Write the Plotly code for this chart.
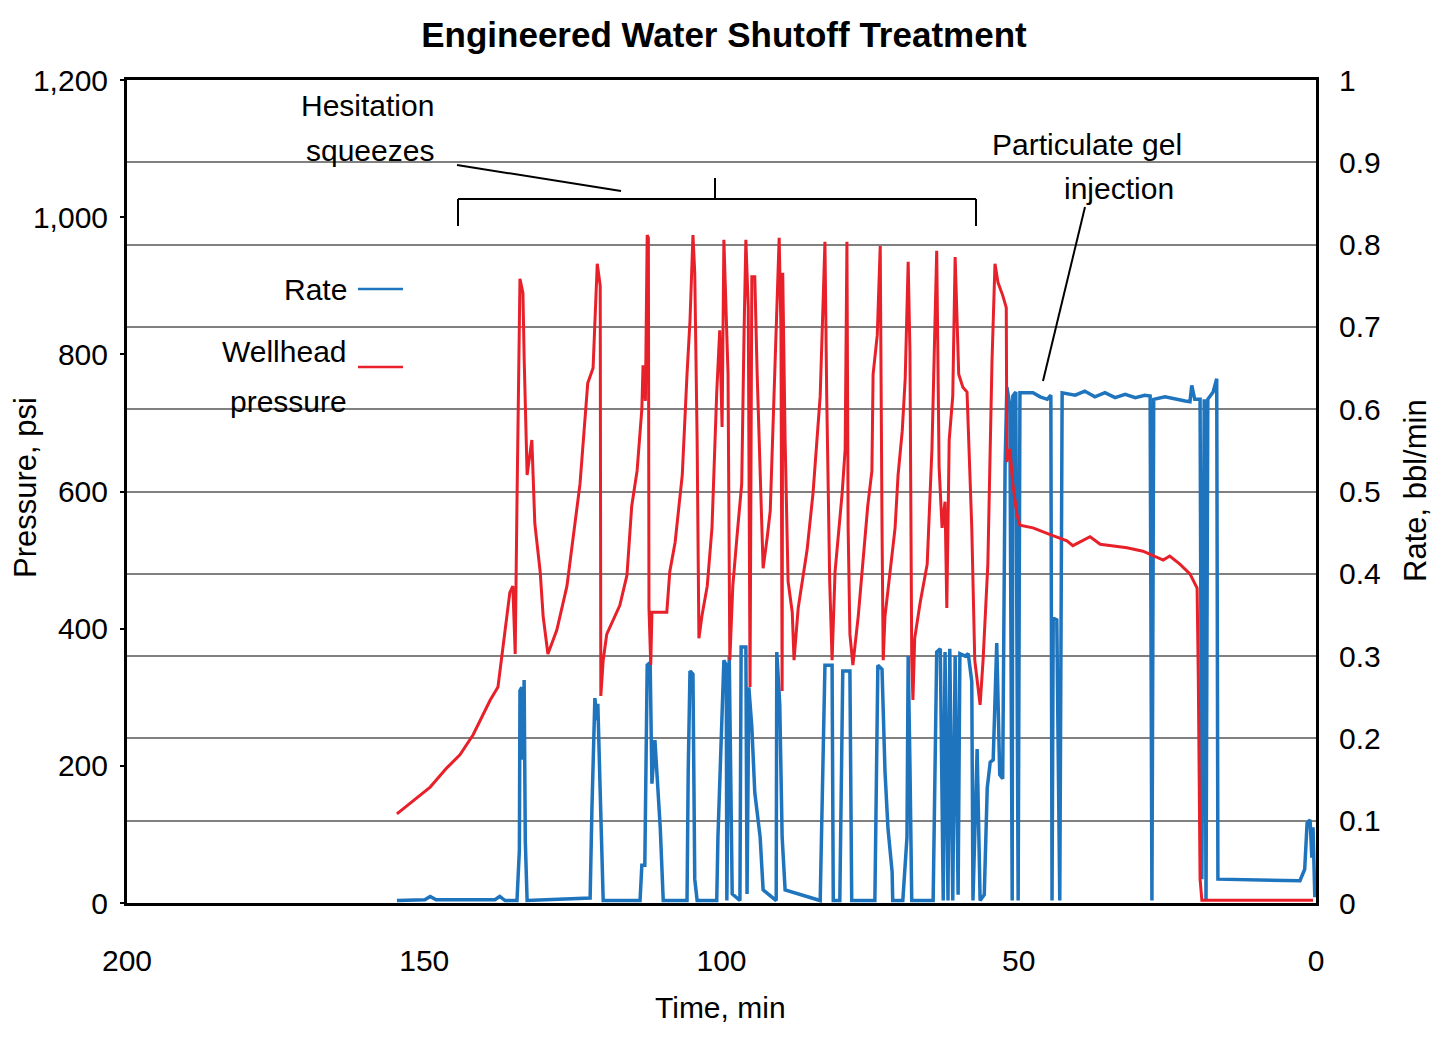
import plotly.graph_objects as go

# ---- Data ----
# Wellhead pressure, psi vs time, min
pressure_time = [
    154.6, 151.9, 149.0, 146.2, 144.0, 141.8, 138.9, 137.6, 136.9, 136.3,
    135.6, 135.1, 134.7, 134.4, 133.9, 133.4, 133.2, 132.7, 131.9, 131.4,
    130.5, 130.0, 129.2, 127.7, 126.0, 123.8, 122.5, 121.6, 120.9, 120.4,
    120.3, 119.9, 119.3, 117.1, 115.9, 115.1, 114.2, 113.4, 113.2, 112.8,
    112.5, 112.3, 112.2, 111.9, 111.7, 109.2, 108.7, 107.8, 106.6, 105.8,
    105.3, 104.8, 104.5, 104.1, 103.8, 103.3, 102.4, 101.6, 101.1, 100.8,
    100.3, 99.9, 99.6, 99.2, 98.9, 98.6, 98.1, 97.4, 96.6, 96.2,
    95.9, 95.5, 95.2, 94.9, 94.4, 94.0, 93.5, 93.0, 92.3, 91.8,
    91.0, 90.3, 90.0, 89.8, 89.7, 89.3, 88.8, 88.1, 87.8, 87.1,
    85.6, 84.6, 83.4, 82.6, 82.3, 81.8, 81.4, 80.9, 79.7, 79.2,
    78.9, 78.7, 78.4, 77.9, 77.0, 76.2, 75.4, 74.7, 74.5, 73.8,
    73.3, 73.0, 72.8, 72.5, 71.7, 70.8, 70.3, 69.6, 69.1, 68.6,
    68.3, 68.0, 67.8, 67.5, 66.6, 65.4, 64.6, 64.1, 63.8, 63.4,
    62.9, 62.4, 62.1, 61.7, 61.1, 60.7, 60.4, 60.1, 59.4, 58.7,
    57.9, 57.4, 56.5, 56.0, 55.2, 54.5, 54.0, 53.5, 52.7, 52.1,
    52.0, 51.5, 51.0, 50.3, 49.8, 47.6, 44.7, 41.9, 40.9, 38.0,
    36.3, 31.8, 29.1, 25.7, 24.6, 22.9, 21.2, 20.0, 19.8, 19.5,
    19.2, 0.5,
]
pressure_psi = [
    130, 149, 169, 197, 216, 245, 296, 315, 363, 398,
    453, 462, 363, 585, 910, 889, 796, 624, 675, 553,
    483, 418, 363, 398, 462, 611, 758, 780, 932, 900,
    302, 354, 392, 434, 478, 579, 630, 720, 784, 732,
    974, 970, 430, 347, 424, 424, 483, 526, 624, 771,
    849, 974, 919, 675, 386, 418, 462, 547, 675, 745,
    835, 694, 967, 835, 771, 354, 462, 534, 611, 835,
    967, 868, 315, 913, 913, 771, 611, 488, 534, 572,
    784, 970, 835, 309, 919, 675, 469, 424, 354, 430,
    515, 598, 739, 964, 739, 469, 354, 483, 598, 662,
    964, 547, 392, 347, 418, 494, 579, 630, 771, 828,
    958, 547, 354, 418, 483, 547, 624, 688, 764, 935,
    803, 354, 296, 386, 437, 494, 662, 822, 951, 636,
    547, 585, 430, 675, 739, 942, 841, 771, 752, 745,
    547, 354, 289, 354, 494, 790, 932, 905, 886, 868,
    643, 662, 611, 566, 551, 547, 537, 528, 521, 534,
    523, 518, 513, 500, 506, 494, 480, 459, 331, 35,
    4, 4,
]

# Rate, bbl/min vs time, min
rate_time = [
    154.6, 149.9, 149.0, 148.0, 138.1, 137.3, 136.4, 134.4, 134.0, 133.9,
    133.6, 133.4, 133.2, 133.0, 132.7, 122.1, 121.8, 121.3, 120.9, 120.8,
    120.4, 119.9, 113.7, 113.4, 112.9, 112.5, 112.0, 111.7, 111.2, 110.3,
    109.8, 105.8, 105.6, 105.3, 104.8, 104.5, 104.1, 100.8, 100.6, 99.9,
    99.6, 99.2, 99.1, 98.7, 98.2, 96.9, 96.7, 95.9, 95.7, 95.4,
    94.9, 94.4, 93.5, 93.0, 90.8, 90.7, 90.2, 89.8, 89.3, 83.4,
    83.1, 82.6, 81.4, 81.2, 80.1, 79.6, 78.4, 78.1, 74.2, 73.7,
    73.0, 72.5, 72.0, 71.3, 71.2, 69.5, 68.8, 68.6, 68.3, 68.0,
    64.4, 63.8, 63.2, 62.7, 62.4, 61.9, 61.6, 61.1, 60.7, 60.2,
    59.9, 59.0, 58.5, 57.9, 57.7, 57.0, 56.5, 55.8, 55.3, 54.8,
    54.3, 53.7, 53.2, 52.7, 52.3, 52.0, 51.5, 51.1, 51.0, 50.5,
    50.1, 49.8, 47.6, 46.4, 45.2, 44.6, 44.4, 44.2, 43.6, 43.4,
    43.1, 42.7, 40.5, 38.9, 37.2, 35.5, 33.8, 32.1, 30.4, 28.8,
    27.9, 27.6, 27.3, 25.4, 23.7, 22.0, 21.2, 20.9, 20.4, 19.5,
    19.2, 18.8, 18.5, 18.2, 17.3, 16.7, 16.5, 2.7, 1.9, 1.5,
    1.0, 0.7, 0.5, 0.2,
]
rate_bpm = [
    0.003, 0.004, 0.008, 0.004, 0.004, 0.008, 0.003, 0.003, 0.064, 0.258,
    0.262, 0.174, 0.271, 0.075, 0.003, 0.006, 0.113, 0.249, 0.222, 0.242,
    0.134, 0.003, 0.003, 0.046, 0.046, 0.289, 0.292, 0.145, 0.198, 0.091,
    0.003, 0.003, 0.160, 0.282, 0.278, 0.029, 0.003, 0.003, 0.080, 0.214,
    0.295, 0.289, 0.003, 0.300, 0.011, 0.003, 0.311, 0.311, 0.011, 0.262,
    0.214, 0.134, 0.080, 0.016, 0.003, 0.305, 0.241, 0.080, 0.016, 0.003,
    0.118, 0.289, 0.289, 0.003, 0.003, 0.282, 0.282, 0.003, 0.003, 0.289,
    0.284, 0.160, 0.091, 0.038, 0.003, 0.003, 0.080, 0.300, 0.166, 0.003,
    0.003, 0.305, 0.309, 0.003, 0.305, 0.003, 0.309, 0.003, 0.300, 0.010,
    0.303, 0.300, 0.303, 0.269, 0.003, 0.187, 0.003, 0.010, 0.140, 0.171,
    0.174, 0.316, 0.156, 0.151, 0.532, 0.627, 0.605, 0.003, 0.616, 0.621,
    0.003, 0.620, 0.620, 0.615, 0.612, 0.617, 0.003, 0.346, 0.344, 0.233,
    0.003, 0.620, 0.617, 0.622, 0.615, 0.620, 0.614, 0.618, 0.614, 0.617,
    0.616, 0.003, 0.612, 0.615, 0.612, 0.610, 0.609, 0.629, 0.612, 0.612,
    0.029, 0.612, 0.003, 0.612, 0.621, 0.637, 0.029, 0.027, 0.041, 0.097,
    0.101, 0.055, 0.092, 0.007,
]

time_ticks = [200, 150, 100, 50, 0]
pressure_ticks = [0, 200, 400, 600, 800, 1000, 1200]
rate_ticks = [0, 0.1, 0.2, 0.3, 0.4, 0.5, 0.6, 0.7, 0.8, 0.9, 1]

BLUE = "#1F74BE"
RED = "#E8202A"
FONT = "Liberation Sans, Arial, sans-serif"

fig = go.Figure()
# rate on base axis (right side), pressure on overlay axis so it draws on top
fig.add_trace(go.Scatter(x=rate_time, y=rate_bpm, mode="lines", name="Rate",
                         line=dict(color=BLUE, width=3.5), yaxis="y"))
fig.add_trace(go.Scatter(x=pressure_time, y=pressure_psi, mode="lines",
                         name="Wellhead pressure",
                         line=dict(color=RED, width=3), yaxis="y2"))

fig.update_layout(
    width=1442, height=1037,
    margin=dict(l=119, r=134, t=72, b=142),
    paper_bgcolor="white", plot_bgcolor="white",
    showlegend=False,
    font=dict(family=FONT, size=30, color="black"),
    title=dict(text="<b>Engineered Water Shutoff Treatment</b>",
               x=0.4965, xanchor="center", y=0.9745, yanchor="middle",
               font=dict(family="Liberation Sans Narrow, Arial Narrow, Liberation Sans, Arial",
                         size=35, color="black")),
    xaxis=dict(range=[200, 0], tickvals=time_ticks, showgrid=False, zeroline=False,
               showline=True, linecolor="black", linewidth=3, mirror=True,
               ticks="", ticklabelstandoff=29),
    yaxis=dict(range=[0, 1], tickvals=rate_ticks, side="right",
               showgrid=True, gridcolor="#808080", gridwidth=2, zeroline=False,
               showline=True, linecolor="black", linewidth=3, mirror=True,
               ticks="", ticklabelstandoff=14),
    yaxis2=dict(range=[0, 1200], tickvals=pressure_ticks, tickformat=",",
                overlaying="y", side="left", showgrid=False, zeroline=False,
                showline=False, ticks="outside", ticklen=6, tickwidth=2,
                tickcolor="black", ticklabelstandoff=6),
)

def px(xpix):
    return (xpix - 127) / 1189

def py(ypix):
    return (903 - ypix) / 823

ann = []
def text(t, x, y, xanchor="right", angle=0, size=30):
    ann.append(dict(text=t, x=x, y=y, xref="paper", yref="paper",
                    xanchor=xanchor, yanchor="middle", showarrow=False,
                    textangle=angle, font=dict(family=FONT, size=size, color="black")))

text("Hesitation", px(436), py(105))
text("squeezes", px(436), py(150))
text("Particulate gel", px(1184), py(145))
text("injection", px(1176), py(188))
text("Rate", px(349), py(289))
text("Wellhead", px(349), py(351))
text("pressure", px(349), py(401))
text("Time, min", px(720), py(1007), xanchor="center", size=30)
text("Pressure, psi", px(25), py(488), xanchor="center", angle=-90, size=31)
text("Rate, bbl/min", px(1416), py(491), xanchor="center", angle=-90, size=31)
fig.update_layout(annotations=ann)

shapes = []
def seg(x0, y0, x1, y1, color="black", width=2):
    shapes.append(dict(type="line", xref="paper", yref="paper",
                       x0=px(x0), y0=py(y0), x1=px(x1), y1=py(y1),
                       line=dict(color=color, width=width)))

# bracket and pointer lines
seg(458, 199, 976, 199)
seg(458, 199, 458, 226)
seg(976, 199, 976, 226)
seg(715, 178, 715, 199)
seg(457, 165, 621, 191)
seg(1085, 207, 1043, 381)
# legend keys
seg(358, 289, 403, 289, color=BLUE, width=2.5)
seg(358, 367, 403, 367, color=RED, width=2.5)
fig.update_layout(shapes=shapes)

fig.write_html("out.html")
